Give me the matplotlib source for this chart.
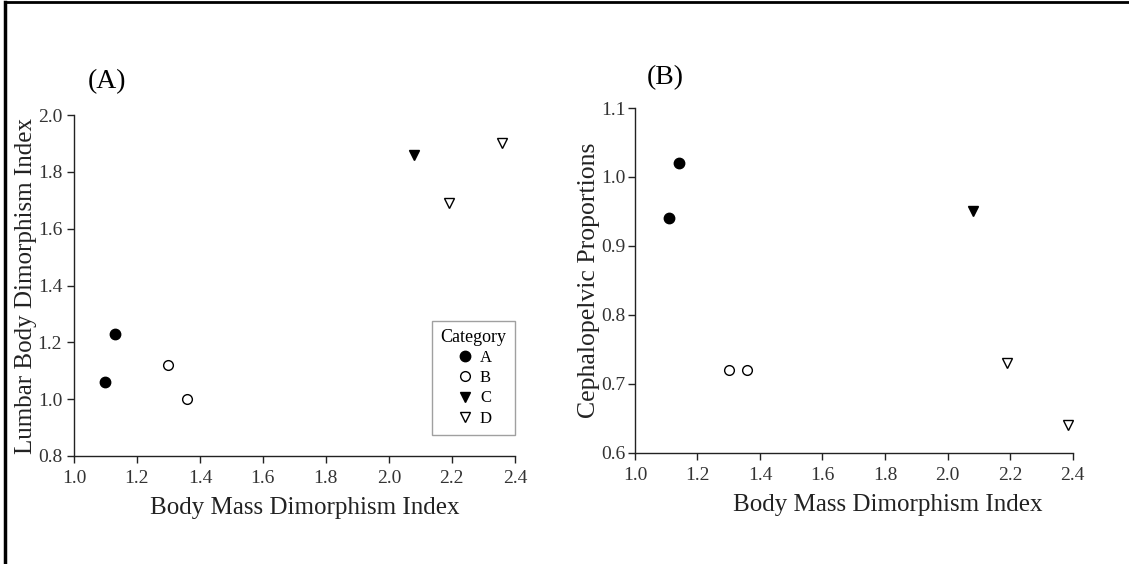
import matplotlib.pyplot as plt
from matplotlib.lines import Line2D

plt.rcParams['font.family'] = ['Liberation Serif', 'DejaVu Serif']

categories = ['A', 'B', 'C', 'D']
markers = {'A': 'o', 'B': 'o', 'C': 'v', 'D': 'v'}
filled = {'A': True, 'B': False, 'C': True, 'D': False}

# Panel A: body mass dimorphism index (x) vs lumbar body dimorphism index (y)
bm_x_a = {
    'A': [1.10, 1.13],
    'B': [1.30, 1.36],
    'C': [2.08],
    'D': [2.19, 2.36],
}
lumbar_y = {
    'A': [1.06, 1.23],
    'B': [1.12, 1.00],
    'C': [1.86],
    'D': [1.69, 1.90],
}
# Panel B: body mass dimorphism index (x) vs cephalopelvic proportions (y)
bm_x_b = {
    'A': [1.11, 1.14],
    'B': [1.30, 1.36],
    'C': [2.08],
    'D': [2.19, 2.385],
}
cephalo_y = {
    'A': [0.94, 1.02],
    'B': [0.72, 0.72],
    'C': [0.95],
    'D': [0.73, 0.64],
}

xticks = [1.0, 1.2, 1.4, 1.6, 1.8, 2.0, 2.2, 2.4]
yticks_a = [0.8, 1.0, 1.2, 1.4, 1.6, 1.8, 2.0]
yticks_b = [0.6, 0.7, 0.8, 0.9, 1.0, 1.1]

fig = plt.figure(figsize=(11.29, 5.64), dpi=100)
ax1 = fig.add_axes([0.0655, 0.1915, 0.3905, 0.6045])
ax2 = fig.add_axes([0.5624, 0.197, 0.3876, 0.6115])


def draw(ax, xs, ys, xlabel_x):
    for c in categories:
        size = 7.5 if filled[c] else 7
        ax.plot(xs[c], ys[c], linestyle='none', marker=markers[c],
                markersize=size, markeredgewidth=1.0, color='black',
                markerfacecolor='black' if filled[c] else 'white', label=c)
    for s in ['top', 'right']:
        ax.spines[s].set_visible(False)
    for s in ['left', 'bottom']:
        ax.spines[s].set_color('#222222')
        ax.spines[s].set_linewidth(1.0)
    ax.tick_params(direction='out', length=5, width=1, color='#222222',
                   labelsize=14, labelcolor='#333333')
    ax.tick_params(axis='x', pad=5)
    ax.set_xticks(xticks)
    ax.set_xticklabels(['%.1f' % v for v in xticks])
    ax.set_xlim(1.0, 2.4)
    ax.set_xlabel('Body Mass Dimorphism Index', fontsize=18, color='#222222',
                  labelpad=7)
    ax.xaxis.label.set_x(xlabel_x)


draw(ax1, bm_x_a, lumbar_y, 0.524)
ax1.set_ylim(0.8, 2.0)
ax1.set_yticks(yticks_a)
ax1.set_yticklabels(['%.1f' % v for v in yticks_a])
ax1.set_ylabel('Lumbar Body Dimorphism Index', fontsize=18, color='#222222')
ax1.yaxis.set_label_coords(-0.083, 0.5)
leg = ax1.legend(title='Category', loc='lower right', bbox_to_anchor=(1.0, 0.062),
                 borderaxespad=0.0, fontsize=12, title_fontsize=13, fancybox=False,
                 edgecolor='#888888', handletextpad=0.3, labelspacing=0.25,
                 borderpad=0.5, handlelength=1.2)
leg.get_frame().set_linewidth(1.0)

draw(ax2, bm_x_b, cephalo_y, 0.578)
ax2.set_ylim(0.6, 1.1)
ax2.set_yticks(yticks_b)
ax2.set_yticklabels(['%.1f' % v for v in yticks_b])
ax2.tick_params(axis='y', pad=2)
ax2.set_ylabel('Cephalopelvic Proportions', fontsize=18.5, color='#222222')
ax2.yaxis.set_label_coords(-0.081, 0.5)

fig.text(0.078, 0.855, '(A)', fontsize=20, va='center', ha='left')
fig.text(0.573, 0.862, '(B)', fontsize=20, va='center', ha='left')

# partial frame around the figure (top and left edges)
fig.add_artist(Line2D([0.004, 1.0], [0.996, 0.996], transform=fig.transFigure,
                      color='black', linewidth=2.0))
fig.add_artist(Line2D([0.004, 0.004], [0.0, 0.996], transform=fig.transFigure,
                      color='black', linewidth=2.5))

fig.savefig('out.png', dpi=100)
